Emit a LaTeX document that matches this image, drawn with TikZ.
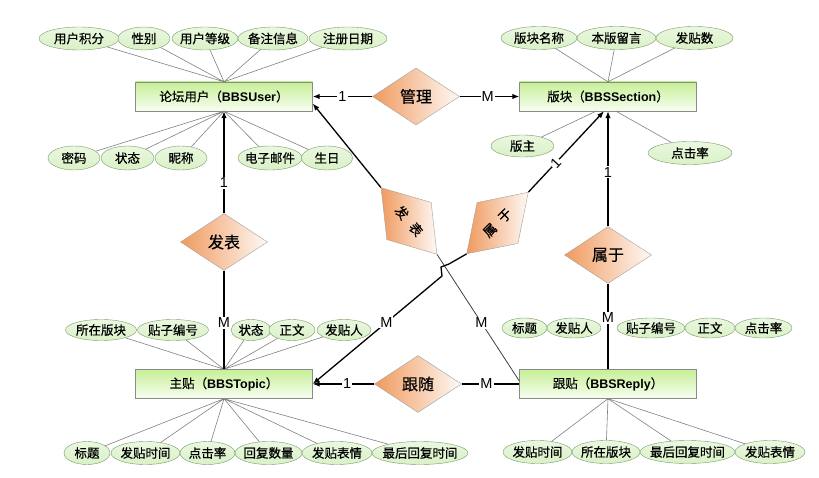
\documentclass[tikz,border=0pt]{standalone}
\usepackage{fontspec}
\setmainfont{Liberation Sans}
\newfontfamily\cjk[FakeBold=0.6]{Noto Sans CJK SC}
\usetikzlibrary{positioning,arrows.meta,shapes.geometric}
\definecolor{entgreen}{HTML}{C6F096}
\definecolor{attgreen}{HTML}{D9F1C6}
\definecolor{attline}{HTML}{7A9A6A}
\definecolor{relorange}{HTML}{F09A5E}
\definecolor{boxgray}{HTML}{8A8A8A}
\newcommand{\engname}[1]{{\rmfamily\bfseries #1}}
\tikzset{
    every node/.style={font=\cjk},
    entity/.style={rectangle,draw=boxgray,top color=entgreen,bottom color=entgreen!12,minimum width=177pt,minimum height=29pt,inner sep=0pt,font=\fontsize{12.5}{15}\selectfont\cjk},
    attrib/.style={ellipse,draw=attline,top color=attgreen!55,bottom color=attgreen,minimum height=23pt,inner xsep=-3pt,inner ysep=0pt,font=\fontsize{12.5}{15}\selectfont\cjk},
    relation/.style={diamond,draw=boxgray!80,left color=relorange,right color=relorange!6,inner sep=0pt,minimum width=87pt,minimum height=57pt,font=\fontsize{16}{18}\selectfont\cjk},
    tilted/.style={font=\fontsize{13}{15}\selectfont\cjk,minimum height=58pt},
    card/.style={fill=white,inner sep=1pt,font=\fontsize{14.5}{16}\selectfont\rmfamily},
    link/.style={draw=black!50,line width=0.6pt},
    rel/.style={draw=black,line width=1.3pt},
    rellight/.style={draw=black!75,line width=0.8pt},
    arr/.style={-{Latex[length=7pt,width=5.5pt]}}
}
\begin{document}
\begin{tikzpicture}[x=1pt,y=-1pt]
\useasboundingbox (0,0) rectangle (819,478);

\node[entity] (user) at (224,96.5) {论坛用户（\engname{BBSUser}）};
\node[entity] (section) at (608,96.5) {版块（\engname{BBSSection}）};
\node[entity] (topic) at (224,384) {主贴（\engname{BBSTopic}）};
\node[entity] (reply) at (608,384) {跟贴（\engname{BBSReply}）};

\node[relation] (guanli) at (416,96.5) {管理};
\node[relation] (fabiao) at (224,242) {发表};
\node[relation] (shuyu) at (608,255) {属于};
\node[relation] (gensui) at (418,384) {跟随};
\node[relation,tilted,rotate=-50] (fabiaoB) at (409,221) {发\hspace{9pt}表};
\node[relation,tilted,rotate=45] (shuyuB) at (497.5,223) {属\hspace{8pt}于};

% attributes of BBSUser
\node[attrib,minimum width=80pt] (ua1) at (79,38.5) {用户积分};
\node[attrib,minimum width=52pt] (ua2) at (144,38.5) {性别};
\node[attrib,minimum width=66pt] (ua3) at (205,38.5) {用户等级};
\node[attrib,minimum width=70pt] (ua4) at (273,38.5) {备注信息};
\node[attrib,minimum width=78pt] (ua5) at (348,38.5) {注册日期};
\node[attrib,minimum width=52pt,minimum height=24pt] (ub1) at (74,158) {密码};
\node[attrib,minimum width=53pt,minimum height=24pt] (ub2) at (127.5,158) {状态};
\node[attrib,minimum width=52pt,minimum height=24pt] (ub3) at (181,158) {昵称};
\node[attrib,minimum width=64pt,minimum height=24pt] (ub4) at (270,158) {电子邮件};
\node[attrib,minimum width=51pt,minimum height=24pt] (ub5) at (327,158) {生日};

% attributes of BBSSection
\node[attrib,minimum width=76pt] (sa1) at (539,38) {版块名称};
\node[attrib,minimum width=79pt] (sa2) at (616.5,38) {本版留言};
\node[attrib,minimum width=77pt] (sa3) at (694.5,38) {发贴数};
\node[attrib,minimum width=63pt,minimum height=22pt] (sb1) at (522.5,146) {版主};
\node[attrib,minimum width=84pt] (sb2) at (690,153) {点击率};

% attributes of BBSTopic
\node[attrib,minimum width=71pt,minimum height=21pt] (ta1) at (101,330) {所在版块};
\node[attrib,minimum width=71pt,minimum height=21pt] (ta2) at (173,330) {贴子编号};
\node[attrib,minimum width=40pt,minimum height=21pt] (ta3) at (251,330) {状态};
\node[attrib,minimum width=46pt,minimum height=21pt] (ta4) at (292,330) {正文};
\node[attrib,minimum width=54pt,minimum height=21pt] (ta5) at (344,330) {发贴人};
\node[attrib,minimum width=46pt] (tb1) at (87,453) {标题};
\node[attrib,minimum width=69pt] (tb2) at (145.5,453) {发贴时间};
\node[attrib,minimum width=55pt] (tb3) at (207.5,453) {点击率};
\node[attrib,minimum width=67pt] (tb4) at (268.5,453) {回复数量};
\node[attrib,minimum width=70pt] (tb5) at (337,453) {发贴表情};
\node[attrib,minimum width=96pt,inner xsep=-5pt] (tb6) at (420,453) {最后回复时间};

% attributes of BBSReply
\node[attrib,minimum width=45pt,minimum height=20pt] (ra1) at (524.5,328) {标题};
\node[attrib,minimum width=54pt,minimum height=20pt] (ra2) at (574,328) {发贴人};
\node[attrib,minimum width=68pt,minimum height=20pt] (ra3) at (651,328) {贴子编号};
\node[attrib,minimum width=50pt,minimum height=20pt] (ra4) at (710,328) {正文};
\node[attrib,minimum width=57pt,minimum height=20pt] (ra5) at (763.5,328) {点击率};
\node[attrib,minimum width=69pt] (rb1) at (537.5,452) {发贴时间};
\node[attrib,minimum width=68pt] (rb2) at (606,452) {所在版块};
\node[attrib,minimum width=95pt,inner xsep=-5pt] (rb3) at (687.5,452) {最后回复时间};
\node[attrib,minimum width=70pt] (rb4) at (770,452) {发贴表情};

\draw[link] (ua1) -- (user.north) (ua2) -- (user.north) (ua3) -- (user.north)
    (ua4) -- (user.north) (ua5) -- (user.north);
\draw[link] (ub1) -- (user.south) (ub2) -- (user.south) (ub3) -- (user.south)
    (ub4) -- (user.south) (ub5) -- (user.south);
\draw[link] (sa1) -- (section.north) (sa2) -- (section.north) (sa3) -- (section.north);
\draw[link] (sb1) -- ([xshift=-12pt]section.south);
\draw[link] (sb2) -- ([xshift=8pt]section.south);
\draw[link] (ta1) -- (topic.north) (ta2) -- (topic.north) (ta3) -- (topic.north)
    (ta4) -- (topic.north) (ta5) -- (topic.north);
\draw[link] (tb1) -- (topic.south) (tb2) -- (topic.south) (tb3) -- (topic.south)
    (tb4) -- (topic.south) (tb5) -- (topic.south) (tb6) -- (topic.south);
\draw[link] (rb1) -- (reply.south) (rb2) -- (reply.south) (rb3) -- (reply.south)
    (rb4) -- (reply.south);

% relationships
\draw[rel,arr] (guanli.west) -- node[card,pos=0.5] {1} (user.east);
\draw[rel,arr] (guanli.east) -- node[card,pos=0.47] {M} (section.west);
\draw[rel,arr] (fabiao.north) -- node[card,pos=0.3] {1} (user.south);
\draw[rel] (fabiao.south) -- node[card,pos=0.53] {M} (topic.north);
\draw[rel,arr] (shuyu.north) -- node[card,pos=0.47] {1} (section.south);
\draw[rel] (shuyu.south) -- node[card,pos=0.4] {M} (reply.north);
\draw[rel,arr] (gensui.west) -- node[card,pos=0.44] {1} (topic.east);
\draw[rel] (gensui.east) -- node[card,pos=0.43] {M} (reply.west);

\draw[rel,arr] (fabiaoB.west) -- ([yshift=-7pt]user.east);
\draw[rellight] (fabiaoB.east) -- node[card,pos=0.54] {M} ([yshift=3pt]reply.west);

\coordinate (hopA) at (442,276);
\coordinate (hopB) at (441,267);
\coordinate (hopC) at (449,264);
\draw[rel,arr] (shuyuB.west) -- (hopC) -- (hopB) -- (hopA) -- node[card,pos=0.43] {M} (topic.east);
\draw[rel,arr] (shuyuB.east) -- node[card,sloped,pos=0.36] {1} ([xshift=-4pt]section.south);
\end{tikzpicture}
\end{document}
